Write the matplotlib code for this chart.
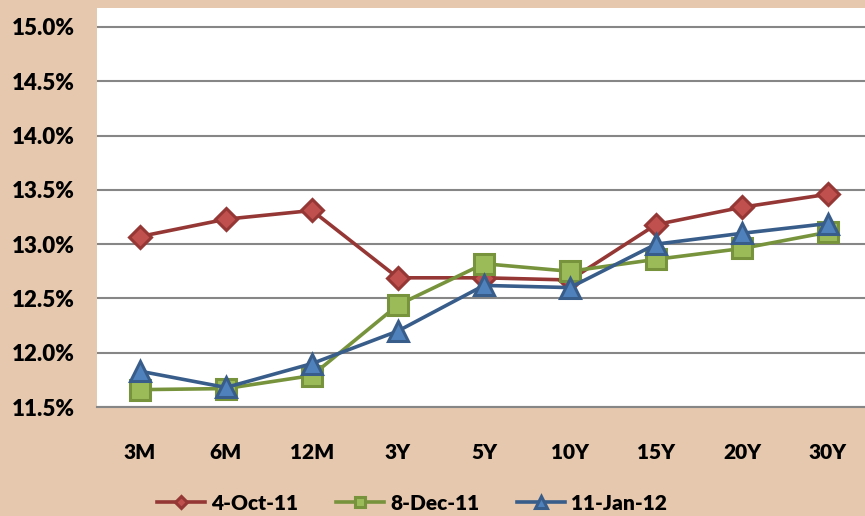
import matplotlib
matplotlib.use("Agg")
import matplotlib.pyplot as plt
from matplotlib.ticker import FuncFormatter, MultipleLocator

tenors = ["3M", "6M", "12M", "3Y", "5Y", "10Y", "15Y", "20Y", "30Y"]
oct11 = [13.07, 13.23, 13.31, 12.69, 12.69, 12.67, 13.18, 13.34, 13.46]
dec11 = [11.66, 11.67, 11.79, 12.44, 12.82, 12.75, 12.86, 12.96, 13.11]
jan12 = [11.83, 11.68, 11.90, 12.20, 12.62, 12.60, 13.00, 13.10, 13.19]
labels = ["4-Oct-11", "8-Dec-11", "11-Jan-12"]

bg = "#E5C8AE"
plt.rcParams['font.family'] = ['Lato', 'DejaVu Sans']
plt.rcParams['font.weight'] = 'heavy'

fig = plt.figure(figsize=(8.65, 5.16), dpi=100, facecolor=bg)
ax = fig.add_axes([0.1121, 0.2112, 0.8948, 0.7733])
ax.set_facecolor("white")

x = range(len(tenors))
ax.plot(x, oct11, color="#953735", lw=2.6, marker="D", ms=11,
        mfc="#C0504D", mec="#953735", mew=2.2, label=labels[0], zorder=3)
ax.plot(x, dec11, color="#77933C", lw=2.6, marker="s", ms=14,
        mfc="#9BBB59", mec="#77933C", mew=2.2, label=labels[1], zorder=4)
ax.plot(x, jan12, color="#385D8A", lw=2.6, marker="^", ms=15,
        mfc="#4F81BD", mec="#385D8A", mew=2.2, label=labels[2], zorder=5)

ax.set_xlim(-0.5, len(tenors) - 0.5)
ax.set_ylim(11.5, 15.175)
ax.yaxis.set_major_locator(MultipleLocator(0.5))
ax.yaxis.set_major_formatter(FuncFormatter(lambda v, p: f"{v:.1f}%"))
ax.set_xticks(list(x))
ax.set_xticklabels(tenors)
ax.grid(axis="y", color="#868686", lw=1.5)
ax.set_axisbelow(True)
for s in ["top", "right", "left"]:
    ax.spines[s].set_visible(False)
ax.spines["bottom"].set_color("#868686")
ax.spines["bottom"].set_linewidth(1.5)
ax.tick_params(length=0, labelsize=15)
ax.tick_params(axis="y", labelsize=16, pad=16)
ax.tick_params(axis="x", pad=26)

leg = fig.legend(loc="center", bbox_to_anchor=(412 / 865, 1 - 503 / 516), ncol=3,
                 frameon=False, fontsize=15, handlelength=2.3, handletextpad=0.3,
                 columnspacing=1.8, markerscale=0.55)

fig.savefig("out.png", dpi=100, facecolor=bg)
